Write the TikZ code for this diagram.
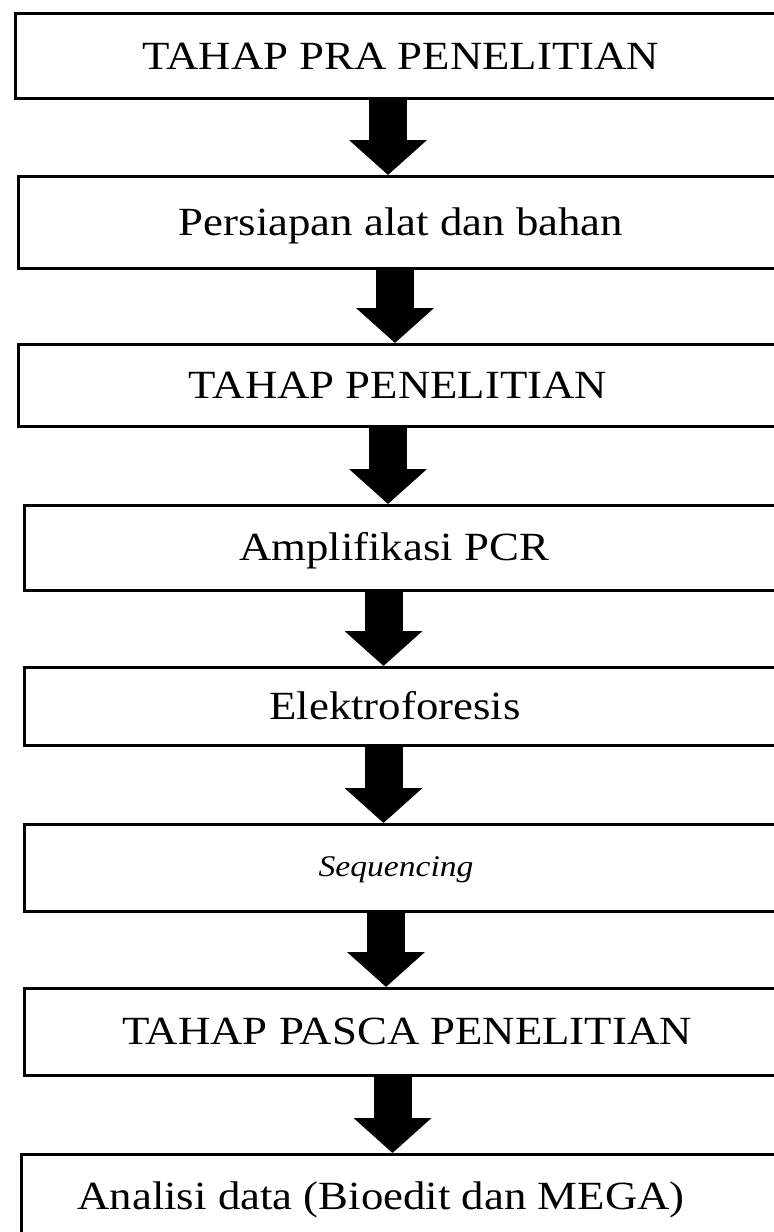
\documentclass[tikz,border=0pt]{standalone}
\usepackage{fontspec}
\setmainfont{Liberation Serif}[FakeStretch=1.12]
\usetikzlibrary{arrows.meta}
\tikzset{
  box/.style={draw, line width=2.7pt, rectangle, inner sep=0pt, anchor=north west},
  lbl/.style={font=\fontsize{40}{48}\selectfont, inner sep=0pt, anchor=base},
  blockarrow/.style={line width=38pt, -{Triangle[length=35pt, width=76pt]}, shorten <=-1pt}
}
\begin{document}
\begin{tikzpicture}[x=1pt, y=-1pt]
\path[use as bounding box] (0,0) rectangle (774,1232);
\clip (0,0) rectangle (774,1232);
\fill[white] (0,0) rectangle (774,1232);
% boxes
\node[box, minimum width=776pt, minimum height=85pt] (b1) at (14,12) {};
\node[box, minimum width=773pt, minimum height=92pt] (b2) at (17,175) {};
\node[box, minimum width=773pt, minimum height=82pt] (b3) at (17,343) {};
\node[box, minimum width=767pt, minimum height=85pt] (b4) at (23,504) {};
\node[box, minimum width=767pt, minimum height=78pt] (b5) at (23,666) {};
\node[box, minimum width=767pt, minimum height=87pt] (b6) at (23,823) {};
\node[box, minimum width=767pt, minimum height=87pt] (b7) at (23,987) {};
\node[box, minimum width=770pt, minimum height=92pt] (b8) at (20,1153) {};
% labels
\node[lbl] (t1) at (401,69) {TAHAP PRA PENELITIAN};
\node[lbl] (t2) at (401,235) {Persiapan alat dan bahan};
\node[lbl] (t3) at (398,398) {TAHAP PENELITIAN};
\node[lbl] (t4) at (394,560) {Amplifikasi PCR};
\node[lbl] (t5) at (395,719) {Elektroforesis};
\node[lbl, font=\fontsize{30}{36}\selectfont\itshape] (t6) at (396,876) {Sequencing};
\node[lbl] (t7) at (407,1044) {TAHAP PASCA PENELITIAN};
\node[lbl] (t8) at (381,1209) {Analisi data (Bioedit dan MEGA)};
% arrows
\coordinate (x1) at (388,0);
\coordinate (x2) at (395,0);
\coordinate (x3) at (388,0);
\coordinate (x4) at (383.5,0);
\coordinate (x5) at (383.5,0);
\coordinate (x6) at (386,0);
\coordinate (x7) at (392.5,0);
\draw[blockarrow] (b1.south -| x1) -- (b2.north -| x1);
\draw[blockarrow] (b2.south -| x2) -- (b3.north -| x2);
\draw[blockarrow] (b3.south -| x3) -- (b4.north -| x3);
\draw[blockarrow] (b4.south -| x4) -- (b5.north -| x4);
\draw[blockarrow] (b5.south -| x5) -- (b6.north -| x5);
\draw[blockarrow] (b6.south -| x6) -- (b7.north -| x6);
\draw[blockarrow] (b7.south -| x7) -- (b8.north -| x7);
\end{tikzpicture}
\end{document}
